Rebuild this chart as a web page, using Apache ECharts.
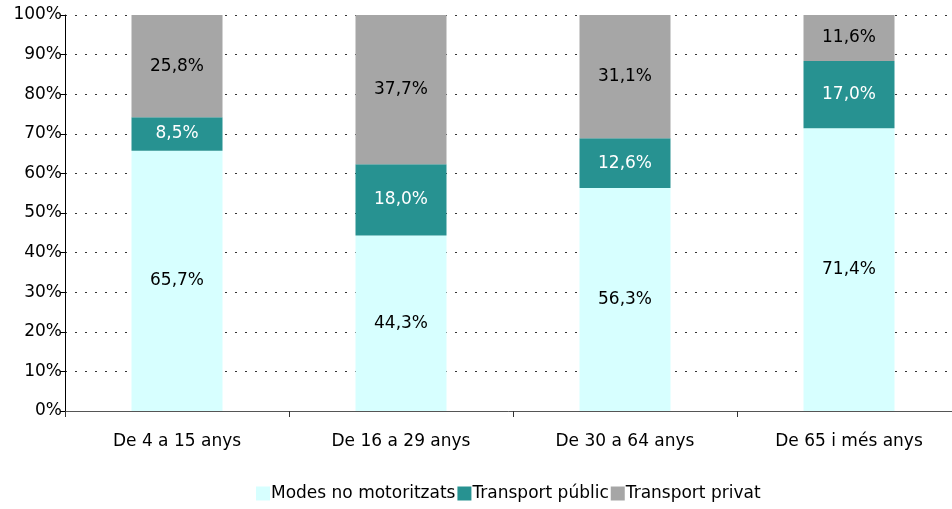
<!DOCTYPE html>
<html>
<head>
<meta charset="utf-8">
<script src="https://cdn.jsdelivr.net/npm/echarts@6/dist/echarts.min.js"></script>
<style>
  html, body { margin: 0; padding: 0; background: #fff; }
  #chart { width: 952px; height: 509px; }
</style>
</head>
<body>
<div id="chart"></div>
<script>
  // categories and values (percent)
  const categories = ['De 4 a 15 anys', 'De 16 a 29 anys', 'De 30 a 64 anys', 'De 65 i més anys']
  const noMotor = [65.7, 44.3, 56.3, 71.4]
  const publicT = [8.5, 18.0, 12.6, 17.0]
  const privatT = [25.8, 37.7, 31.1, 11.6]
  const seriesNames = ['Modes no motoritzats', 'Transport públic', 'Transport privat']
  const yTicks = [0, 10, 20, 30, 40, 50, 60, 70, 80, 90, 100]

  const font = '"DejaVu Sans", sans-serif'
  const fmt = p => p.value.toFixed(1).replace('.', ',') + '%'

  function mkSeries(name, data, color, labelColor) {
    return {
      name: name,
      type: 'bar',
      stack: 'total',
      barWidth: 91,
      data: data,
      itemStyle: { color: color },
      label: {
        show: true,
        position: 'inside',
        formatter: fmt,
        color: labelColor,
        fontFamily: font,
        fontSize: 17
      }
    }
  }

  let myChart = echarts.init(document.getElementById('chart'))
  let option = {
    animation: false,
    textStyle: { fontFamily: font },
    grid: { left: 65, width: 896, top: 15, height: 396, outerBoundsMode: 'none', containLabel: false },
    legend: {
      bottom: 2,
      left: 251,
      itemWidth: 14,
      itemHeight: 14,
      itemGap: 2,
      icon: 'rect',
      textStyle: { fontFamily: font, fontSize: 17, color: '#000', padding: [0, 0, 0, -4] },
      data: seriesNames
    },
    xAxis: {
      type: 'category',
      data: categories,
      axisLine: { lineStyle: { color: '#555' } },
      axisTick: { show: true, length: 6, lineStyle: { color: '#333' } },
      axisLabel: { color: '#000', fontSize: 17, fontFamily: font, margin: 22 }
    },
    yAxis: {
      type: 'value',
      min: 0,
      max: 100,
      interval: 10,
      axisLine: { show: true, lineStyle: { color: '#000' } },
      axisTick: { show: true, length: 5, lineStyle: { color: '#000' } },
      axisLabel: {
        color: '#000', fontSize: 17, fontFamily: font, margin: 3,
        formatter: v => yTicks.includes(v) ? v + '%' : ''
      },
      splitLine: { lineStyle: { color: '#333', type: [2, 8], width: 1 } }
    },
    series: [
      mkSeries(seriesNames[0], noMotor, '#d7ffff', '#000'),
      mkSeries(seriesNames[1], publicT, '#279291', '#fff'),
      mkSeries(seriesNames[2], privatT, '#a6a6a6', '#000')
    ]
  }
  myChart.setOption(option)
</script>
</body>
</html>
